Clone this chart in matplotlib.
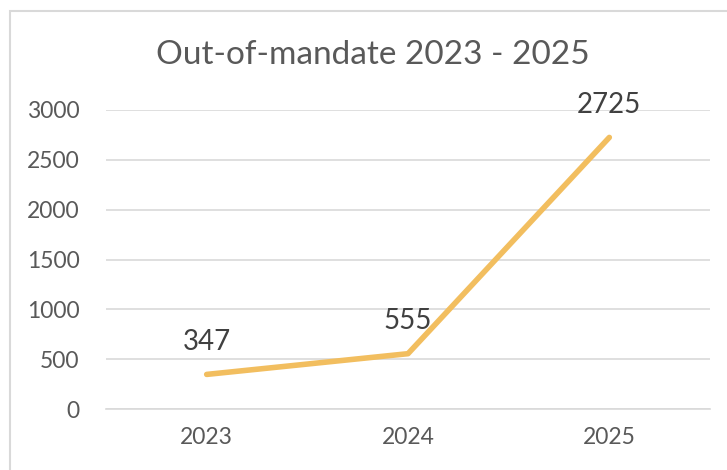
import matplotlib.pyplot as plt
from matplotlib.patches import Rectangle

years = ['2023', '2024', '2025']
counts = [347, 555, 2725]
yticks = [0, 500, 1000, 1500, 2000, 2500, 3000]

plt.rcParams['font.family'] = ['Lato', 'DejaVu Sans']
txt = '#595959'
grid = '#D9D9D9'

fig = plt.figure(figsize=(7.27, 4.70), dpi=100)
W, H = 727, 470
ax = fig.add_axes([106 / W, 1 - 409 / H, (710 - 106) / W, (409 - 110) / H])

# outer chart border (runs off the right and bottom edges)
fig.patches.append(Rectangle((9.5 / W, -0.1), 1.2, 1 - 11 / H + 0.1,
                             transform=fig.transFigure, fill=False,
                             edgecolor=grid, linewidth=1.5))

x = [0.5, 1.5, 2.5]
ax.plot(x, counts, color='#F2BE5F', linewidth=4, solid_capstyle='round')
for xi, v in zip(x, counts):
    ax.annotate(str(v), (xi, v), xytext=(0, 14), textcoords='offset points',
                ha='center', va='bottom', fontsize=20, color='#404040')

ax.set_xlim(0, 3)
ax.set_ylim(0, 3000)
ax.set_yticks(yticks)
ax.set_xticks(x)
ax.set_xticklabels(years)
ax.yaxis.grid(True, color=grid, linewidth=1.2)
ax.set_axisbelow(True)
for s in ['top', 'right', 'left']:
    ax.spines[s].set_visible(False)
ax.spines['bottom'].set_color(grid)
ax.spines['bottom'].set_linewidth(1.2)
ax.tick_params(length=0, colors=txt, labelsize=16.5)
ax.tick_params(axis='y', pad=19)
ax.tick_params(axis='x', pad=13)

fig.text(373 / W, 1 - 55 / H, 'Out-of-mandate 2023 - 2025', ha='center',
         va='center', fontsize=24, color=txt)

fig.savefig('out.png', dpi=100)
